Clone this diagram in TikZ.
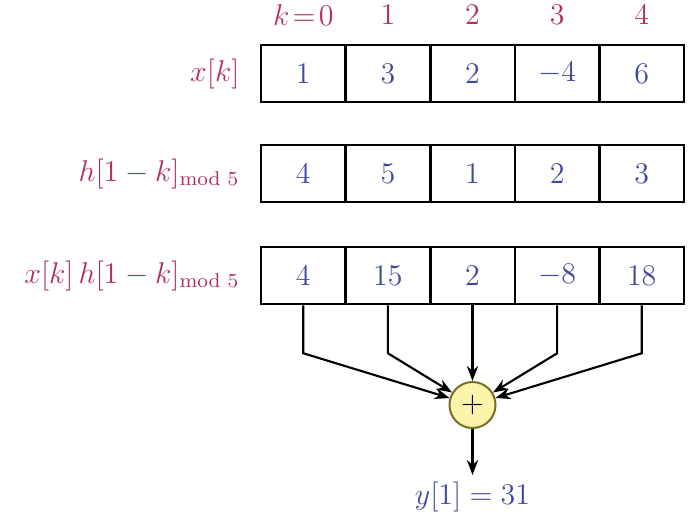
\documentclass[tikz,border=0pt]{standalone}
\usepackage{amsmath}
\usetikzlibrary{arrows.meta,positioning,calc}
\definecolor{labred}{RGB}{176,48,88}
\definecolor{valblue}{RGB}{64,72,160}
\definecolor{sumfill}{RGB}{252,244,170}
\definecolor{sumdraw}{RGB}{120,110,40}
\tikzset{
  cellbox/.style={draw, line width=1pt, minimum width=33.8pt, minimum height=22.8pt,
    inner sep=0pt, text=valblue},
  rowlabel/.style={anchor=east, text=labred, inner sep=0pt},
  idxlabel/.style={text=labred, inner sep=0pt},
  sumnode/.style={circle, draw=sumdraw, line width=0.8pt, fill=sumfill,
    minimum size=18.4pt, inner sep=0pt},
  flow/.style={-{Stealth[length=6pt,width=4.5pt]}, line width=0.85pt}
}
\begin{document}
\begin{tikzpicture}[x=0.4pt, y=-0.4pt, font=\fontsize{11.5}{14}\selectfont]
\useasboundingbox (0,0) rectangle (697,515);

% index labels
\node[idxlabel] (k0) at (303.3,15) {$k\!=\!0$};
\foreach \i in {1,...,4}
  \node[idxlabel] (k\i) at ({303.3+84.6*\i},15) {$\i$};

% the three rows of cells
\foreach \v [count=\i from 0] in {1,3,2,-4,6}
  \node[cellbox] (x\i) at ({303.3+84.6*\i},73.5) {$\v$};
\foreach \v [count=\i from 0] in {4,5,1,2,3}
  \node[cellbox] (h\i) at ({303.3+84.6*\i},173.5) {$\v$};
\foreach \v [count=\i from 0] in {4,15,2,-8,18}
  \node[cellbox] (p\i) at ({303.3+84.6*\i},275.5) {$\v$};

% row labels
\node[rowlabel] (xlab) at (240,73.5) {$x[k]$};
\node[rowlabel] (hlab) at (240,173.5) {$h[1-k]_{\text{mod }5}$};
\node[rowlabel] (plab) at (240,275.5) {$x[k]\,h[1-k]_{\text{mod }5}$};

% adder
\node[sumnode] (sum) at ($(p2)+(0,129.5)$) {$+$};
\coordinate (out) at ($(sum)+(0,70)$);
\node[text=valblue] (y) at ($(sum)+(0,92)$) {$y[1]=31$};

\foreach \i in {0,1,3,4} {
  \coordinate (b\i) at ($(p\i.south)+(0,48)$);
  \draw[flow] (p\i.south) -- (b\i) -- (sum);
}
\draw[flow] (p2.south) -- (sum);
\draw[flow] (sum) -- (out);
\end{tikzpicture}
\end{document}
